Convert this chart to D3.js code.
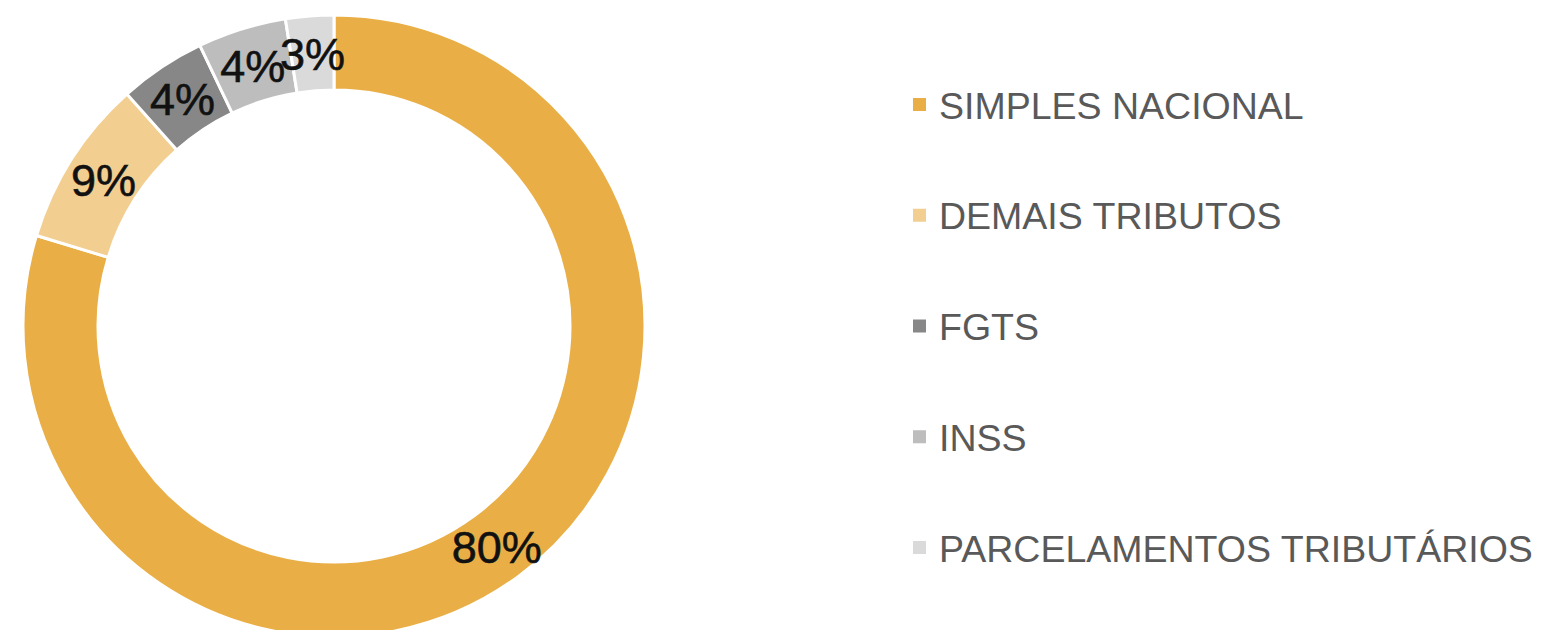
<!DOCTYPE html>
<html><head><meta charset="utf-8">
<script src="https://cdn.jsdelivr.net/npm/d3@7"></script>
<style>html,body{margin:0;padding:0;background:#fff;overflow:hidden}</style>
</head><body>
<svg id="chart" width="1541" height="630"></svg>
<script>
const categories = ["SIMPLES NACIONAL", "DEMAIS TRIBUTOS", "FGTS", "INSS", "PARCELAMENTOS TRIBUTÁRIOS"];
const values = [79.7, 8.7, 4.5, 4.6, 2.5];
const labels = ["80%", "9%", "4%", "4%", "3%"];
const colors = ["#E9AF46", "#F2CE90", "#878787", "#BDBDBD", "#DADADA"];

const svg = d3.select("#chart");
const cx = 334, cy = 326, R = 311, r = 236;
const data = categories.map((c, i) => ({cat: c, value: values[i], label: labels[i], color: colors[i]}));
const pie = d3.pie().value(d => d.value).sort(null);
const arc = d3.arc().innerRadius(r).outerRadius(R);
const g = svg.append("g").attr("transform", `translate(${cx},${cy})`);
const arcs = pie(data);
g.selectAll("path").data(arcs).join("path")
  .attr("d", arc).attr("fill", d => d.data.color)
  .attr("stroke", "#fff").attr("stroke-width", 3).attr("stroke-linejoin", "round");
g.selectAll("text").data(arcs).join("text")
  .attr("transform", d => `translate(${arc.centroid(d)})`)
  .attr("text-anchor", "middle").attr("dy", "0.38em")
  .attr("font-family", "'Liberation Sans', Arial, sans-serif")
  .attr("font-size", 45).attr("fill", "#111")
  .attr("stroke", "#111").attr("stroke-width", 0.6)
  .text(d => d.data.label);

const legendY = d3.scalePoint().domain(categories).range([105, 548]);
const lg = svg.append("g");
const items = lg.selectAll("g").data(data).join("g")
  .attr("transform", d => `translate(913,${legendY(d.cat)})`);
items.append("rect").attr("x", 0).attr("y", -7).attr("width", 13).attr("height", 13).attr("fill", d => d.color);
items.append("text").attr("x", 26).attr("y", 0).attr("dy", "0.36em")
  .attr("font-family", "'Liberation Sans', Arial, sans-serif")
  .attr("font-size", 37.5).attr("fill", "#595959")
  .text(d => d.cat);
</script>
</body></html>
